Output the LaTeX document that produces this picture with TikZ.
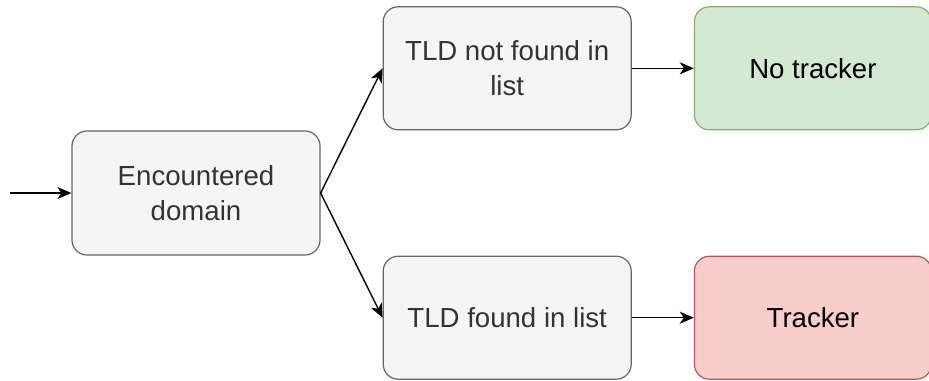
\documentclass[tikz,border=0pt]{standalone}
\usepackage{fontspec}
\setmainfont{Liberation Sans}
\usepackage{tikz}
\usetikzlibrary{arrows.meta,positioning}
\definecolor{stepfill}{HTML}{F5F5F5}
\definecolor{stepline}{HTML}{666666}
\definecolor{steptext}{HTML}{333333}
\definecolor{okfill}{HTML}{D5E8D4}
\definecolor{okline}{HTML}{82B366}
\definecolor{badfill}{HTML}{F8CECC}
\definecolor{badline}{HTML}{B85450}
\tikzset{
  flow/box/.style={draw, rounded corners=7.5pt, line width=0.6pt, minimum width=124pt, minimum height=61.5pt, align=center, font=\fontsize{13.8}{17.5}\selectfont},
  flow/step/.style={flow/box, fill=stepfill, draw=stepline, text=steptext},
  flow/ok/.style={flow/box, fill=okfill, draw=okline, text=black},
  flow/bad/.style={flow/box, fill=badfill, draw=badline, text=black},
  flow/line/.style={line width=0.7pt, -{Stealth[length=7pt,width=6pt,inset=2pt]}}
}

\begin{document}
\begin{tikzpicture}[
  node distance=0pt and 31pt
]
\useasboundingbox (0,0) rectangle (464.5pt,-190pt);

\node[flow/step, minimum height=62pt] (domain) at (98pt,-96.5pt) {Encountered\\domain};
\coordinate (start) at (5pt,-96.5pt);

\node[flow/step, above right=0pt and 31pt of domain] (notfound) {TLD not found in\\list};
\node[flow/step, below right=0pt and 31pt of domain] (found) {TLD found in list};

\node[flow/ok, minimum width=118.5pt, right=31pt of notfound] (notracker) {No tracker};
\node[flow/bad, minimum width=118.5pt, right=31pt of found] (tracker) {Tracker};

\draw[flow/line] (start) -- (domain);
\draw[flow/line] (domain.east) -- (notfound.west);
\draw[flow/line] (domain.east) -- (found.west);
\draw[flow/line] (notfound) -- (notracker);
\draw[flow/line] (found) -- (tracker);

\end{tikzpicture}
\end{document}
